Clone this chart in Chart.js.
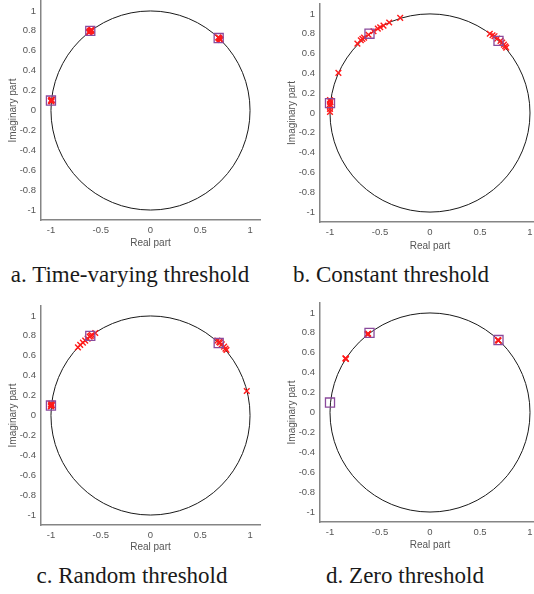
<!DOCTYPE html>
<html>
<head>
<meta charset="utf-8">
<script src="https://cdn.jsdelivr.net/npm/chart.js@4.4.1/dist/chart.umd.min.js"></script>
<style>
  html, body { margin: 0; padding: 0; background: #fff; overflow: hidden; }
  body { width: 534px; height: 594px; position: relative; }
  canvas { position: absolute; }
  .caption {
    position: absolute; width: 300px; text-align: center; white-space: nowrap;
    font-family: 'Liberation Serif', 'Times New Roman', serif;
    font-size: 23px; line-height: 23px; color: #1a1a1a;
  }
</style>
</head>
<body>
<canvas id="panelA" width="267" height="275" style="left:0;top:-15px"></canvas>
<canvas id="panelB" width="273" height="272" style="left:267px;top:-12px"></canvas>
<canvas id="panelC" width="267" height="263" style="left:0;top:290px"></canvas>
<canvas id="panelD" width="273" height="263" style="left:267px;top:290px"></canvas>

<div class="caption" style="left:-20px;top:263px">a. Time-varying threshold</div>
<div class="caption" style="left:241px;top:263px">b. Constant threshold</div>
<div class="caption" style="left:-18px;top:564px">c. Random threshold</div>
<div class="caption" style="left:255px;top:564px">d. Zero threshold</div>

<script>
// true pole locations, same in every panel
const poleReal = [-1.0, -0.605, 0.685];
const poleImag = [0.1, 0.8, 0.728];

// axis ticks
const xTicks = [-1, -0.5, 0, 0.5, 1];
const xTickLabels = ['-1', '-0.5', '0', '0.5', '1'];
const yTicks = [1, 0.8, 0.6, 0.4, 0.2, 0, -0.2, -0.4, -0.6, -0.8, -1];
const yTickLabels = ['1', '0.8', '0.6', '0.4', '0.2', '0', '-0.2', '-0.4', '-0.6', '-0.8', '-1'];

// estimated poles, time-varying threshold
const aReal = [-1.0, -0.995, -1.0, -0.99, -0.995, -0.61, -0.6, -0.62, -0.59, -0.605, -0.615, -0.595, 0.69, 0.7, 0.68, 0.695, 0.705, 0.685];
const aImag = [0.1, 0.11, 0.095, 0.105, 0.09, 0.795, 0.805, 0.785, 0.81, 0.8, 0.79, 0.8, 0.725, 0.715, 0.735, 0.72, 0.71, 0.73];

// estimated poles, constant threshold
const bReal = [-0.726, -0.692, -0.676, -0.659, -0.615, -0.565, -0.522, -0.498, -0.465, -0.408, -0.298, -0.916,
               -1.0, -0.995, -1.0, -1.0, -1.0, -1.0,
               0.598, 0.625, 0.645, 0.672, 0.705, 0.722, 0.739, 0.752, 0.762];
const bImag = [0.70, 0.734, 0.748, 0.761, 0.79, 0.825, 0.852, 0.865, 0.882, 0.913, 0.96, 0.405,
               0.13, 0.11, 0.09, 0.07, 0.04, 0.01,
               0.80, 0.785, 0.775, 0.751, 0.728, 0.711, 0.69, 0.674, 0.66];

// estimated poles, random threshold
const cReal = [-1.0, -0.995, -1.0, -0.99, -0.995, -1.0,
               -0.729, -0.706, -0.679, -0.656, -0.632, -0.612, -0.589, -0.555, -0.6,
               0.672, 0.699, 0.716, 0.739, 0.753, 0.763, 0.69, 0.967];
const cImag = [0.112, 0.1, 0.09, 0.105, 0.12, 0.095,
               0.685, 0.709, 0.732, 0.752, 0.772, 0.792, 0.809, 0.829, 0.8,
               0.752, 0.732, 0.715, 0.692, 0.672, 0.658, 0.74, 0.246];

// estimated poles, zero threshold
const dReal = [-0.843, -0.846, -0.84, -0.622, -0.618, -0.625, 0.682, 0.685, 0.679];
const dImag = [0.541, 0.545, 0.537, 0.789, 0.792, 0.785, 0.725, 0.722, 0.728];

const axisColor = '#858585';
const textColor = '#555555';

const unitCircle = {
  id: 'unitCircle',
  beforeDatasetsDraw(chart) {
    const { ctx, scales: { x, y } } = chart;
    const cx = x.getPixelForValue(0);
    const cy = y.getPixelForValue(0);
    ctx.save();
    ctx.beginPath();
    ctx.ellipse(cx, cy, x.getPixelForValue(1) - cx, cy - y.getPixelForValue(1), 0, 0, Math.PI * 2);
    ctx.strokeStyle = '#1a1a1a';
    ctx.lineWidth = 1;
    ctx.stroke();
    ctx.restore();
  }
};

function toPoints(re, im) {
  return re.map((v, i) => ({ x: v, y: im[i] }));
}

function makePanel(id, estReal, estImag, box) {
  const ctx = document.getElementById(id).getContext('2d');
  return new Chart(ctx, {
    type: 'scatter',
    data: {
      datasets: [
        {
          data: toPoints(poleReal, poleImag),
          pointStyle: 'rect',
          radius: 6.4,
          borderColor: '#8a4a9c',
          backgroundColor: 'rgba(0,0,0,0)',
          borderWidth: 1.3
        },
        {
          data: toPoints(estReal, estImag),
          pointStyle: 'crossRot',
          radius: 4,
          borderColor: '#ff1a1a',
          borderWidth: 1.4
        }
      ]
    },
    options: {
      responsive: false,
      animation: false,
      events: [],
      layout: {
        autoPadding: false,
        padding: { top: box.padTop, right: box.padRight, left: 0, bottom: 0 }
      },
      plugins: { legend: { display: false }, tooltip: { enabled: false } },
      scales: {
        x: {
          type: 'linear',
          min: -1.1,
          max: 1.1,
          afterBuildTicks: s => { s.ticks = xTicks.map(v => ({ value: v })); },
          afterFit: s => { s.height = box.xHeight; },
          grid: { display: false, drawTicks: false },
          border: { color: axisColor, width: 1.5 },
          ticks: {
            padding: 5,
            color: textColor,
            font: { family: 'Liberation Sans, Arial, sans-serif', size: 9.5 },
            callback: (v, i) => xTickLabels[i]
          },
          title: {
            display: true,
            text: 'Real part',
            color: textColor,
            padding: { top: 0, bottom: box.xTitlePad },
            font: { family: 'Liberation Sans, Arial, sans-serif', size: 10 }
          }
        },
        y: {
          type: 'linear',
          min: -1.1,
          max: 1.1,
          afterBuildTicks: s => { s.ticks = yTicks.map(v => ({ value: v })); },
          afterFit: s => { s.width = box.yWidth; },
          grid: { display: false, drawTicks: false },
          border: { color: axisColor, width: 1.5 },
          ticks: {
            padding: 5,
            color: textColor,
            font: { family: 'Liberation Sans, Arial, sans-serif', size: 9.5 },
            callback: (v, i) => yTickLabels[i]
          },
          title: {
            display: true,
            text: 'Imaginary part',
            color: textColor,
            padding: { top: box.yTitlePad, bottom: 0 },
            font: { family: 'Liberation Sans, Arial, sans-serif', size: 10 }
          }
        }
      }
    },
    plugins: [unitCircle]
  });
}

makePanel('panelA', aReal, aImag, { yWidth: 41, xHeight: 40, padTop: 16, padRight: 7, xTitlePad: 11, yTitlePad: 7 });
makePanel('panelB', bReal, bImag, { yWidth: 53, xHeight: 38, padTop: 16, padRight: 0, xTitlePad: 8, yTitlePad: 19 });
makePanel('panelC', cReal, cImag, { yWidth: 41, xHeight: 28, padTop: 16, padRight: 7, xTitlePad: 0, yTitlePad: 7 });
makePanel('panelD', dReal, dImag, { yWidth: 53, xHeight: 31, padTop: 13, padRight: 0, xTitlePad: 2, yTitlePad: 19 });
</script>
</body>
</html>
